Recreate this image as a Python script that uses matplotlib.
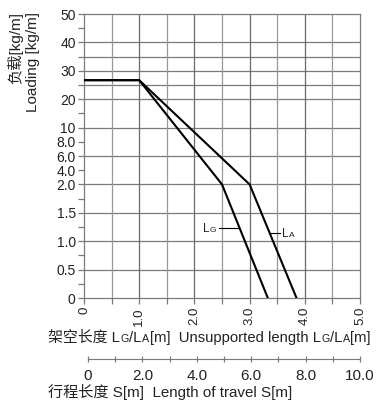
import numpy as np, matplotlib
matplotlib.use("Agg")
import matplotlib.pyplot as plt

plt.rcParams['font.family'] = ['Liberation Sans', 'Noto Sans CJK SC', 'DejaVu Sans']

# y axis is piecewise: evenly spaced labelled values
y_vals = [0, 0.5, 1.0, 1.5, 2.0, 4.0, 6.0, 8.0, 10, 20, 30, 40, 50]
y_pos = [0, 1, 2, 3, 4, 4.5, 5, 5.5, 6, 7, 8, 9, 10]
y_labels = ['0', '0.5', '1.0', '1.5', '2.0', '4.0', '6.0', '8.0', '10', '20', '30', '40', '50']
y_minor = [0.25, 0.75, 1.25, 1.75, 15, 25, 35, 45]
y_grid = [0.5, 1.0, 1.5, 2.0, 6.0, 10, 20, 25, 30, 35, 40]

x_major = [0, 1, 2, 3, 4, 5]
x_labels = ['0', '1.0', '2.0', '3.0', '4.0', '5.0']
s_major = [0, 2, 4, 6, 8, 10]
s_labels = ['0', '2.0', '4.0', '6.0', '8.0', '10.0']

# unsupported length curves
lg_x = [0, 1.0, 2.5, 3.33]
lg_y = [26.7, 26.7, 2.0, 0]
la_x = [0, 1.0, 3.0, 3.85]
la_y = [26.7, 26.7, 2.0, 0]

W, H = 388, 415
fig = plt.figure(figsize=(W / 100, H / 100), dpi=100)
ax = fig.add_axes([84 / W, 1 - 298 / H, 276 / W, 284 / H])

fwd = lambda v: np.interp(v, y_vals, y_pos)
inv = lambda p: np.interp(p, y_pos, y_vals)
ax.set_yscale('function', functions=(fwd, inv))
ax.set_ylim(0, 50); ax.set_xlim(0, 5)

gc = '#7a7a7a'
for v in y_grid:
    ax.axhline(v, color=gc, lw=0.9, zorder=1)
for v in np.arange(0.5, 5.0, 0.5):
    ax.axvline(v, color='#6a6a6a' if v % 1 == 0 else '#999999', lw=0.9, zorder=1)
for s in ax.spines.values():
    s.set_color(gc); s.set_linewidth(0.9)

ax.set_yticks(y_vals); ax.set_yticklabels(y_labels)
ax.set_yticks(y_minor, minor=True)
ax.set_xticks(x_major); ax.set_xticklabels(x_labels, rotation=90)
ax.set_xticks(np.arange(0.5, 5.0, 1.0), minor=True)
ax.tick_params(axis='y', which='both', length=4, width=0.9, color=gc, pad=2, labelsize=10, labelcolor='#222222')
ax.tick_params(axis='x', which='both', length=4.5, width=0.9, color=gc, pad=2, labelsize=9.5, labelcolor='#222222')

ax.plot(lg_x, lg_y, color='black', lw=1.5, zorder=3)
ax.plot(la_x, la_y, color='black', lw=1.5, zorder=3)

# travel length scale
ax2 = fig.add_axes([88 / W, 1 - 359 / H, 272 / W, 0.0001])
ax2.set_xlim(0, 10)
for k in ['left', 'right', 'top']:
    ax2.spines[k].set_visible(False)
ax2.spines['bottom'].set_color(gc)
ax2.set_yticks([])
ax2.set_xticks(s_major); ax2.set_xticklabels(s_labels)
ax2.set_xticks([1, 3, 5, 7, 9], minor=True)
ax2.tick_params(axis='x', which='both', direction='inout', length=4, width=0.9, color=gc, pad=5, labelsize=11, labelcolor='#222222')

r = fig.canvas.get_renderer()
def rich(x, y, parts, size):
    for s, small in parts:
        t = fig.text(x / W, 1 - y / H, s, fontsize=size * (0.72 if small else 1), va='baseline', ha='left', color='#222222')
        x += t.get_window_extent(r).width + 0.5

rich(48, 342, [('架空长度 L', 0), ('G', 1), ('/L', 0), ('A', 1), ('[m]  Unsupported length L', 0), ('G', 1), ('/L', 0), ('A', 1), ('[m]', 0)], 10.75)
rich(48, 397, [('行程长度 S[m]  Length of travel S[m]', 0)], 10.9)
rich(203, 232, [('L', 0), ('G', 1)], 8.5)
rich(282, 237, [('L', 0), ('A', 1)], 8.5)

# leader lines for the curve labels
fig.add_artist(plt.Line2D([219 / W, 238 / W], [1 - 228 / H, 1 - 228 / H], color='black', lw=0.8))
fig.add_artist(plt.Line2D([271 / W, 280 / W], [1 - 233 / H, 1 - 233 / H], color='black', lw=0.8))

fig.text(15 / W, 1 - 12 / H, '负载[kg/m]', rotation=90, va='top', ha='center', fontsize=11, color='#222222')
fig.text(33 / W, 1 - 12 / H, 'Loading [kg/m]', rotation=90, va='top', ha='center', fontsize=11, color='#222222')

fig.savefig('out.png', dpi=100)
